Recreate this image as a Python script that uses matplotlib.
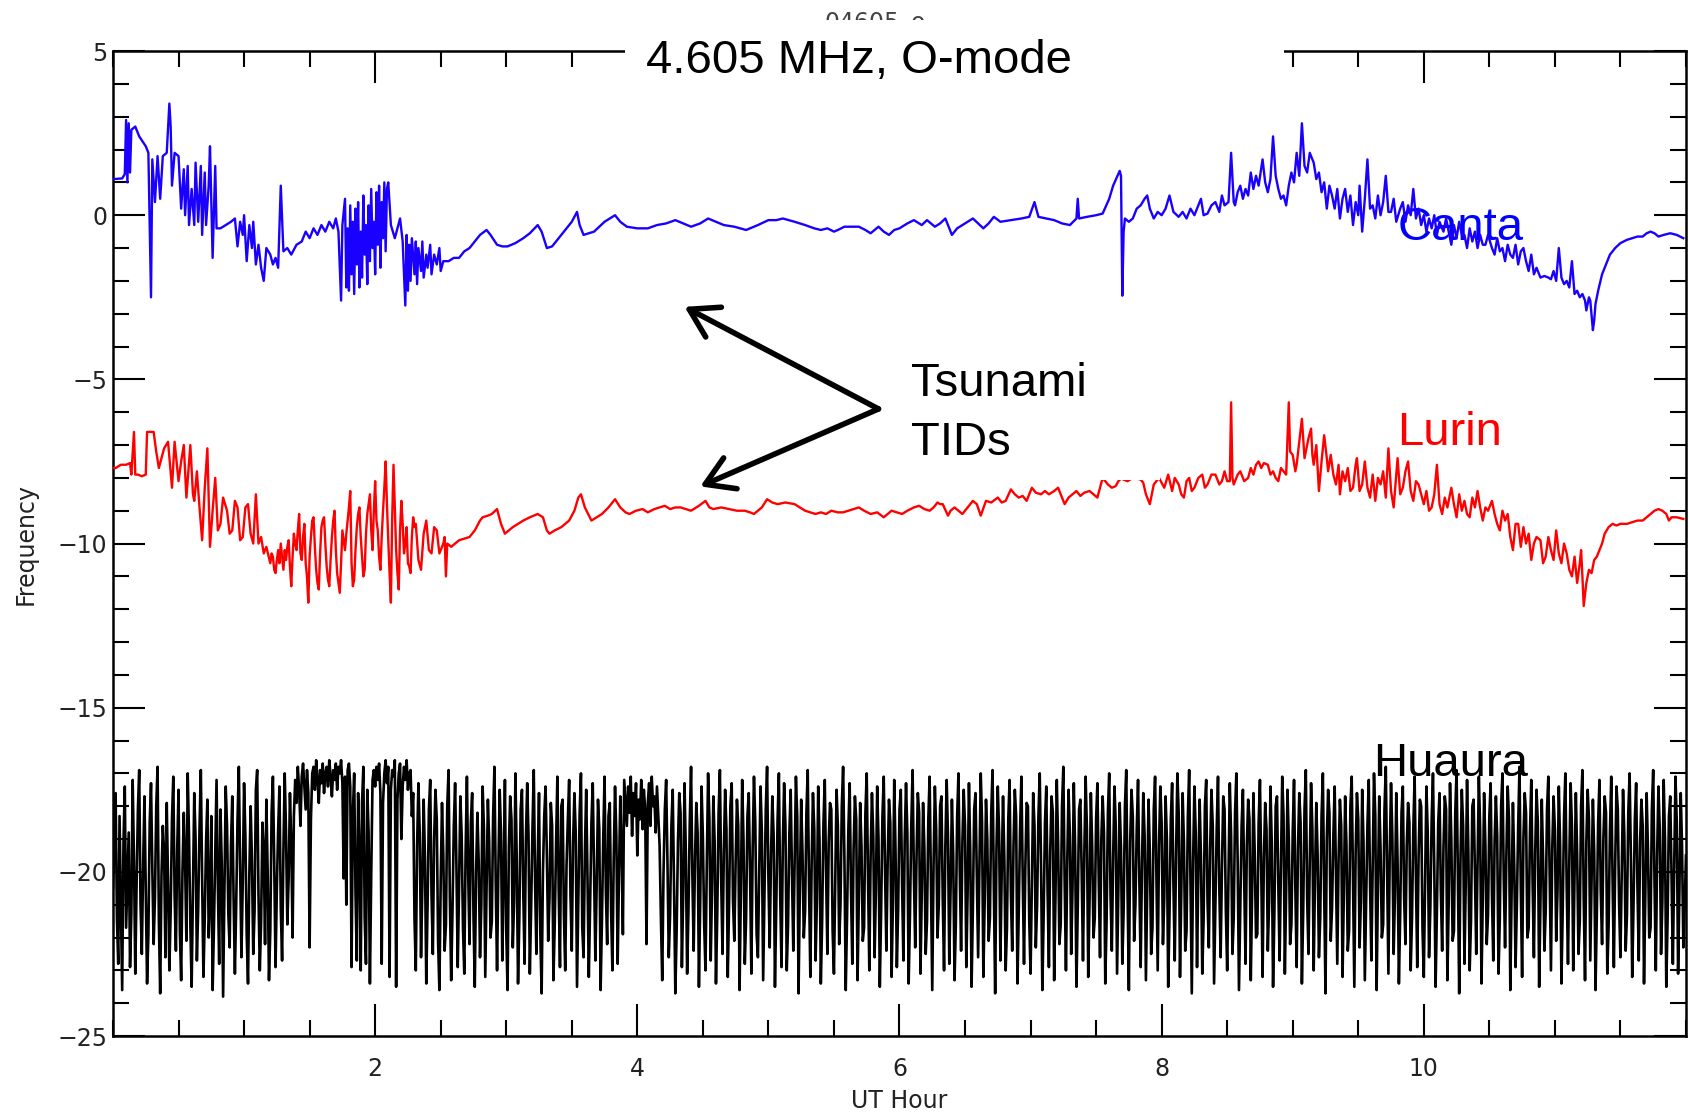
import numpy as np
import matplotlib
matplotlib.use("Agg")
import matplotlib.pyplot as plt
from matplotlib.patches import Rectangle

# ---- data (UT hour, frequency offset) ----
canta_t = [0.00, 0.07, 0.09, 0.10, 0.11, 0.12, 0.13, 0.14, 0.17, 0.20, 0.25, 0.27, 0.29, 0.30, 0.32, 0.34, 0.36, 0.38, 0.41, 0.43,
           0.44, 0.45, 0.47, 0.50, 0.52, 0.54, 0.55, 0.57, 0.58, 0.60, 0.62, 0.63, 0.65, 0.67, 0.68, 0.70, 0.71, 0.73, 0.74, 0.76,
           0.78, 0.79, 0.82, 0.86, 0.90, 0.93, 0.95, 0.97, 0.99, 1.00, 1.02, 1.04, 1.06, 1.07, 1.09, 1.11, 1.13, 1.15, 1.17, 1.20,
           1.22, 1.24, 1.26, 1.28, 1.30, 1.33, 1.36, 1.40, 1.44, 1.47, 1.50, 1.53, 1.56, 1.59, 1.62, 1.65, 1.68, 1.70, 1.72, 1.74,
           1.75, 1.77, 1.78, 1.79, 1.80, 1.81, 1.82, 1.83, 1.84, 1.85, 1.86, 1.87, 1.88, 1.89, 1.90, 1.91, 1.92, 1.93, 1.94, 1.95,
           1.96, 1.97, 1.98, 1.99, 2.00, 2.01, 2.02, 2.03, 2.04, 2.05, 2.06, 2.07, 2.08, 2.09, 2.10, 2.12, 2.15, 2.17, 2.19, 2.21,
           2.23, 2.24, 2.25, 2.26, 2.27, 2.28, 2.30, 2.31, 2.32, 2.33, 2.35, 2.36, 2.37, 2.39, 2.40, 2.42, 2.43, 2.45, 2.47, 2.49,
           2.50, 2.52, 2.56, 2.60, 2.64, 2.68, 2.72, 2.76, 2.80, 2.85, 2.88, 2.93, 2.97, 3.01, 3.07, 3.13, 3.18, 3.24, 3.27, 3.31,
           3.35, 3.38, 3.46, 3.50, 3.54, 3.56, 3.59, 3.63, 3.67, 3.75, 3.83, 3.87, 3.92, 4.00, 4.08, 4.15, 4.22, 4.29, 4.35, 4.41,
           4.48, 4.54, 4.60, 4.66, 4.74, 4.83, 4.92, 5.00, 5.06, 5.11, 5.20, 5.28, 5.35, 5.40, 5.45, 5.50, 5.53, 5.58, 5.61, 5.69,
           5.74, 5.78, 5.84, 5.88, 5.92, 5.96, 6.00, 6.06, 6.11, 6.17, 6.21, 6.27, 6.31, 6.35, 6.40, 6.44, 6.48, 6.52, 6.56, 6.60,
           6.64, 6.68, 6.72, 6.77, 6.85, 6.93, 6.99, 7.03, 7.06, 7.12, 7.18, 7.24, 7.30, 7.35, 7.36, 7.37, 7.43, 7.50, 7.55, 7.60,
           7.63, 7.68, 7.69, 7.70, 7.71, 7.72, 7.75, 7.78, 7.81, 7.84, 7.87, 7.89, 7.91, 7.94, 7.97, 8.00, 8.03, 8.06, 8.09, 8.13,
           8.16, 8.19, 8.22, 8.25, 8.28, 8.30, 8.32, 8.35, 8.38, 8.41, 8.44, 8.46, 8.48, 8.51, 8.53, 8.55, 8.56, 8.58, 8.60, 8.62,
           8.64, 8.66, 8.68, 8.70, 8.72, 8.74, 8.77, 8.79, 8.81, 8.83, 8.85, 8.87, 8.89, 8.91, 8.93, 8.95, 8.97, 8.99, 9.01, 9.03,
           9.05, 9.07, 9.09, 9.11, 9.13, 9.16, 9.18, 9.20, 9.22, 9.24, 9.26, 9.28, 9.30, 9.32, 9.34, 9.36, 9.38, 9.40, 9.42, 9.44,
           9.46, 9.48, 9.50, 9.51, 9.53, 9.55, 9.57, 9.59, 9.61, 9.63, 9.65, 9.67, 9.69, 9.71, 9.73, 9.75, 9.77, 9.79, 9.82, 9.84,
           9.86, 9.88, 9.90, 9.92, 9.94, 9.96, 9.98, 10.00, 10.02, 10.04, 10.06, 10.08, 10.10, 10.12, 10.15, 10.17, 10.19, 10.21, 10.23, 10.25,
           10.27, 10.29, 10.31, 10.33, 10.35, 10.37, 10.39, 10.41, 10.43, 10.45, 10.47, 10.49, 10.52, 10.54, 10.56, 10.58, 10.60, 10.62, 10.64, 10.66,
           10.68, 10.70, 10.72, 10.74, 10.76, 10.78, 10.80, 10.82, 10.84, 10.86, 10.89, 10.92, 10.95, 10.97, 10.99, 11.01, 11.03, 11.05, 11.07, 11.09,
           11.11, 11.13, 11.15, 11.17, 11.19, 11.21, 11.23, 11.24, 11.26, 11.27, 11.29, 11.30, 11.31, 11.33, 11.36, 11.39, 11.42, 11.46, 11.50, 11.55,
           11.59, 11.63, 11.67, 11.70, 11.73, 11.76, 11.79, 11.83, 11.88, 11.93, 11.98]
canta_v = [1.10, 1.12, 1.25, 2.90, 1.00, 2.80, 1.30, 2.60, 2.70, 2.40, 2.10, 1.90, -2.50, 1.70, 0.40, 1.80, 0.50, 1.80, 1.90, 3.40,
           2.70, 0.90, 1.90, 1.80, 0.20, 1.40, 0.00, 1.50, -0.30, 0.80, -0.30, 1.60, -0.20, 1.50, -0.60, 1.30, -0.30, 0.90, 2.10, -1.30,
           1.50, -0.40, -0.40, -0.30, -0.20, -0.10, -0.95, -0.20, -0.60, 0.00, -1.40, -0.30, -1.00, -0.20, -1.50, -0.90, -1.60, -2.00, -1.00, -1.20,
           -1.50, -1.30, -1.60, 0.90, -1.10, -1.00, -1.20, -0.90, -0.80, -0.50, -0.70, -0.40, -0.60, -0.30, -0.50, -0.20, -0.40, -0.10, -0.50, -2.60,
           -0.30, 0.50, -2.20, -0.40, -2.30, 0.30, -1.80, -0.20, -2.40, 0.20, -1.50, 0.40, -2.20, -0.50, -1.90, 0.60, -1.20, -0.30, -2.10, 0.30,
           -1.40, 0.80, -1.00, -0.20, -1.80, 0.70, -0.90, 0.90, -1.60, 0.40, -0.70, 1.00, -1.10, 0.80, 1.00, -0.30, -0.70, -0.40, -0.10, -0.80,
           -2.75, -0.60, -2.30, -0.90, -2.00, -0.70, -1.80, -0.80, -2.10, -1.00, -1.70, -0.80, -1.90, -1.20, -1.60, -0.90, -1.80, -1.20, -1.50, -1.00,
           -1.70, -1.40, -1.40, -1.30, -1.30, -1.10, -1.00, -0.80, -0.60, -0.45, -0.60, -0.90, -0.95, -0.95, -0.85, -0.70, -0.55, -0.30, -0.50, -1.00,
           -0.95, -0.80, -0.40, -0.20, 0.10, -0.30, -0.60, -0.55, -0.50, -0.20, 0.00, -0.20, -0.35, -0.40, -0.40, -0.30, -0.25, -0.15, -0.25, -0.35,
           -0.25, -0.10, -0.20, -0.30, -0.35, -0.45, -0.30, -0.15, -0.15, -0.10, -0.20, -0.30, -0.40, -0.45, -0.40, -0.50, -0.45, -0.35, -0.35, -0.35,
           -0.45, -0.55, -0.35, -0.50, -0.60, -0.45, -0.40, -0.25, -0.15, -0.30, -0.15, -0.35, -0.25, -0.10, -0.60, -0.40, -0.30, -0.20, -0.10, -0.25,
           -0.40, -0.25, -0.05, -0.20, -0.15, -0.10, -0.05, 0.40, -0.05, -0.10, -0.15, -0.25, -0.30, -0.10, 0.50, -0.10, -0.05, 0.00, 0.05, 0.50,
           0.90, 1.35, 1.20, -2.45, -0.50, -0.10, -0.20, -0.10, 0.20, 0.30, 0.50, 0.60, 0.20, -0.10, 0.10, 0.00, 0.20, 0.60, 0.10, -0.05,
           0.10, -0.10, 0.20, 0.00, 0.30, 0.50, 0.00, 0.05, 0.30, 0.40, 0.10, 0.60, 0.30, 0.40, 1.90, 0.40, 0.30, 0.70, 0.90, 0.50,
           0.80, 0.60, 1.30, 0.80, 1.20, 0.90, 1.70, 1.00, 0.70, 1.10, 2.40, 1.20, 0.80, 0.50, 0.60, 0.30, 0.90, 1.30, 1.00, 1.90,
           1.20, 2.80, 1.50, 1.30, 1.90, 1.60, 1.10, 1.30, 0.70, 1.00, 0.20, 0.90, 0.60, 0.20, 0.80, -0.10, 0.50, 0.80, 0.10, 0.60,
           -0.30, 0.40, 0.00, 0.90, -0.50, 0.50, 1.70, 0.20, 0.30, -0.10, 0.60, 0.00, 0.40, 1.20, 0.10, 0.10, 0.50, -0.20, 0.20, 0.40,
           -0.20, 0.30, 0.00, 0.80, -0.10, 0.20, -0.30, 0.00, -0.50, -0.10, -0.40, 0.00, -0.60, -0.20, -0.50, -0.10, -0.50, -0.90, -0.30, -0.70,
           -0.20, -0.60, -0.60, -1.00, -0.40, -0.80, -0.50, -1.00, -0.60, -0.90, -0.90, -0.60, -1.00, -1.20, -0.70, -1.10, -1.00, -1.40, -0.90, -1.20,
           -1.30, -0.90, -1.50, -1.10, -1.00, -1.40, -1.70, -1.20, -1.80, -1.60, -1.90, -1.85, -1.90, -1.95, -1.70, -2.00, -1.00, -1.90, -2.10, -2.00,
           -2.20, -1.40, -2.40, -2.30, -2.50, -2.40, -2.60, -2.90, -2.50, -2.60, -3.50, -3.20, -2.70, -2.30, -1.80, -1.50, -1.20, -1.00, -0.85, -0.75,
           -0.70, -0.65, -0.65, -0.55, -0.50, -0.55, -0.65, -0.60, -0.55, -0.60, -0.70]

lurin_t = [0.00, 0.02, 0.06, 0.10, 0.13, 0.14, 0.16, 0.17, 0.19, 0.22, 0.25, 0.26, 0.29, 0.31, 0.33, 0.35, 0.37, 0.39, 0.42, 0.45,
           0.47, 0.50, 0.52, 0.54, 0.56, 0.59, 0.61, 0.62, 0.64, 0.66, 0.68, 0.70, 0.72, 0.74, 0.76, 0.78, 0.80, 0.82, 0.84, 0.87,
           0.89, 0.91, 0.93, 0.95, 0.97, 0.99, 1.01, 1.03, 1.05, 1.07, 1.09, 1.11, 1.13, 1.15, 1.17,
           1.20, 1.21, 1.22, 1.23, 1.24, 1.25, 1.26, 1.27, 1.28, 1.29, 1.30, 1.31, 1.32, 1.33, 1.34, 1.35, 1.36, 1.37, 1.38, 1.39,
           1.40, 1.41, 1.42, 1.43, 1.44, 1.45, 1.46, 1.47, 1.48, 1.49, 1.50, 1.51, 1.52, 1.53, 1.54, 1.55, 1.56, 1.57, 1.58, 1.59,
           1.60, 1.61, 1.62, 1.63, 1.64, 1.65, 1.66, 1.67, 1.68, 1.69, 1.70, 1.71, 1.72, 1.73, 1.74, 1.75, 1.76, 1.77, 1.78, 1.79,
           1.80, 1.81, 1.82, 1.83, 1.84, 1.85, 1.86, 1.87, 1.88, 1.89, 1.90, 1.91, 1.92, 1.93, 1.94, 1.95, 1.96, 1.97, 1.98, 1.99,
           2.00, 2.01, 2.02, 2.03, 2.04, 2.05, 2.06, 2.07, 2.08, 2.09, 2.10, 2.11, 2.12, 2.13, 2.14, 2.15, 2.16, 2.17, 2.18, 2.19,
           2.20, 2.21, 2.22, 2.23, 2.24, 2.25, 2.26, 2.27, 2.28, 2.29, 2.30,
           2.31, 2.33, 2.35, 2.37, 2.39, 2.41,
           2.43, 2.45, 2.47, 2.49, 2.52, 2.53, 2.54, 2.55, 2.58, 2.61, 2.64, 2.68, 2.72, 2.76, 2.80, 2.82, 2.86, 2.89, 2.93, 2.96,
           2.99, 3.02, 3.05, 3.09, 3.13, 3.18, 3.24, 3.28, 3.31, 3.33, 3.37, 3.42, 3.48, 3.52, 3.55, 3.57, 3.60, 3.65, 3.69, 3.73,
           3.78, 3.83, 3.87, 3.91, 3.94, 3.99, 4.04, 4.08, 4.13, 4.17, 4.21, 4.25, 4.29, 4.33, 4.37, 4.41, 4.47, 4.52, 4.55, 4.58,
           4.64, 4.70, 4.76, 4.82, 4.86, 4.89, 4.92, 4.95, 4.99, 5.03, 5.07, 5.13, 5.20, 5.24, 5.28, 5.32, 5.36, 5.40, 5.44, 5.48,
           5.53, 5.57, 5.61, 5.65, 5.69, 5.73, 5.78, 5.83, 5.88, 5.91, 5.94, 5.98, 6.02, 6.06, 6.11, 6.15, 6.19, 6.23, 6.26, 6.29,
           6.31, 6.33, 6.37, 6.39, 6.42, 6.45, 6.48, 6.52, 6.56, 6.59, 6.62, 6.66, 6.70, 6.75, 6.78, 6.81, 6.85, 6.88, 6.91, 6.94,
           6.97, 7.01, 7.04, 7.08, 7.11, 7.14, 7.18, 7.21, 7.26, 7.29, 7.32, 7.35, 7.38, 7.41, 7.45, 7.48, 7.51, 7.55, 7.59, 7.62,
           7.65, 7.67, 7.69, 7.74, 7.78, 7.84, 7.86, 7.88, 7.91, 7.94, 7.98, 8.02, 8.05, 8.08, 8.10, 8.13, 8.15, 8.17, 8.19, 8.21,
           8.23, 8.25, 8.28, 8.31, 8.33, 8.35, 8.38, 8.41, 8.44, 8.46, 8.48, 8.50, 8.52, 8.53, 8.54, 8.55, 8.58, 8.60, 8.63, 8.66,
           8.68, 8.70, 8.72, 8.74, 8.76, 8.78, 8.81, 8.83, 8.85, 8.87, 8.89, 8.91, 8.93, 8.95, 8.97, 8.98, 9.00, 9.02, 9.03, 9.05,
           9.07, 9.09, 9.10, 9.12, 9.14, 9.15, 9.16, 9.18, 9.20, 9.22, 9.24, 9.26, 9.27, 9.29, 9.31, 9.33, 9.35, 9.36, 9.38, 9.40,
           9.42, 9.44, 9.46, 9.48, 9.49, 9.51, 9.53, 9.55, 9.57, 9.59, 9.61, 9.63, 9.65, 9.67, 9.69, 9.71, 9.73, 9.75, 9.77, 9.79,
           9.80, 9.82, 9.84, 9.86, 9.88, 9.90, 9.92, 9.94, 9.96, 9.98, 10.00, 10.02, 10.04, 10.06, 10.08, 10.10, 10.12, 10.14, 10.16, 10.18,
           10.21, 10.23, 10.25, 10.27, 10.29, 10.31, 10.33, 10.35, 10.37, 10.39, 10.41, 10.43, 10.45, 10.47, 10.49, 10.52, 10.54, 10.56, 10.58, 10.60,
           10.62, 10.64, 10.66, 10.68, 10.70, 10.72, 10.74, 10.76, 10.78, 10.80, 10.82, 10.84, 10.86, 10.89, 10.91, 10.93, 10.95, 10.97, 10.99, 11.01,
           11.03, 11.05, 11.07, 11.09, 11.11, 11.13, 11.15, 11.17, 11.19, 11.20, 11.21, 11.22, 11.24, 11.26, 11.28, 11.30, 11.32, 11.34, 11.36, 11.38,
           11.41, 11.44, 11.47, 11.50, 11.55, 11.59, 11.63, 11.67, 11.70, 11.73, 11.76, 11.79, 11.82, 11.85, 11.87, 11.89, 11.93, 11.98]
lurin_v = [-7.70, -7.70, -7.60, -7.60, -7.55, -7.90, -6.60, -7.90, -7.90, -7.95, -7.90, -6.60, -6.60, -6.60, -7.20, -7.70, -7.40, -7.10, -6.90, -8.30,
           -6.90, -8.10, -7.50, -7.00, -8.60, -7.00, -8.50, -8.70, -7.80, -8.90, -9.90, -8.30, -7.10, -10.10, -9.00, -8.00, -9.60, -9.40, -8.60, -9.00,
           -9.70, -9.60, -8.70, -8.90, -9.90, -9.80, -8.90, -8.80, -9.70, -10.00, -8.50, -10.00, -9.80, -10.30, -10.10,
           -10.6, -10.3, -10.4, -10.8, -10.9, -10.5, -10.2, -10.6, -10.0, -10.4, -10.8, -10.2, -10.5, -10.1, -9.9, -10.7, -11.3, -10.4, -9.7, -10.0,
           -10.2, -9.6, -9.1, -10.3, -10.5, -9.8, -9.4, -10.6, -11.0, -11.8, -10.4, -9.8, -9.3, -9.2, -10.1, -10.8, -11.2, -11.4, -10.3, -9.5,
           -9.3, -9.2, -10.0, -10.7, -11.1, -11.3, -10.5, -9.8, -9.3, -9.0, -10.2, -10.9, -11.2, -11.5, -10.6, -9.6, -9.9, -10.2, -9.7, -9.3,
           -8.9, -8.4, -10.6, -11.3, -11.1, -10.2, -9.5, -9.1, -8.9, -9.8, -10.4, -11.0, -10.8, -9.7, -9.1, -8.8, -8.5, -9.6, -10.2, -9.0,
           -8.1, -9.3, -9.6, -10.4, -10.8, -9.8, -9.0, -8.3, -7.5, -8.8, -9.9, -10.9, -11.8, -9.2, -7.6, -8.9, -10.2, -10.9, -11.4, -9.6,
           -8.7, -9.4, -10.3, -10.0, -9.5, -10.6, -10.7, -10.9, -9.8, -9.2, -9.5,
           -9.40, -10.50, -10.80, -9.70, -9.30, -10.20,
           -10.30, -9.50, -9.60, -10.30, -10.00, -9.80, -11.00, -10.00, -10.10, -10.00, -9.90, -9.85, -9.80, -9.60, -9.30, -9.20, -9.15, -9.10, -8.95, -9.40,
           -9.70, -9.60, -9.50, -9.40, -9.30, -9.20, -9.10, -9.20, -9.60, -9.70, -9.60, -9.50, -9.30, -9.00, -8.60, -8.50, -8.90, -9.30, -9.20, -9.10,
           -8.90, -8.65, -8.90, -9.05, -9.10, -9.00, -8.95, -9.05, -8.95, -8.90, -8.85, -8.95, -8.90, -8.90, -8.95, -9.00, -8.85, -8.70, -8.90, -8.95,
           -8.90, -8.95, -9.00, -9.00, -9.05, -9.10, -9.00, -8.90, -8.65, -8.75, -8.80, -8.75, -8.80, -8.90, -9.00, -9.05, -9.10, -9.05, -9.10, -9.00,
           -9.05, -9.05, -9.00, -8.95, -8.90, -9.00, -9.10, -9.05, -9.20, -9.10, -9.00, -9.05, -9.10, -9.00, -8.90, -8.85, -8.95, -9.00, -8.90, -8.75,
           -8.80, -8.80, -9.15, -9.00, -8.90, -9.00, -9.10, -8.90, -8.70, -8.80, -9.15, -8.70, -8.75, -8.60, -8.75, -8.70, -8.35, -8.50, -8.60, -8.55,
           -8.70, -8.30, -8.45, -8.50, -8.40, -8.50, -8.40, -8.30, -8.80, -8.60, -8.50, -8.40, -8.55, -8.45, -8.40, -8.50, -8.60, -8.00, -8.20, -8.30,
           -8.25, -8.10, -8.02, -8.10, -8.00, -8.05, -8.15, -8.50, -8.80, -8.20, -8.00, -8.30, -7.90, -8.40, -8.00, -8.20, -8.50, -8.60, -8.10, -8.00,
           -8.40, -8.30, -8.00, -7.90, -8.30, -8.20, -7.90, -7.90, -8.20, -8.10, -7.80, -8.10, -8.10, -5.70, -8.00, -8.20, -7.90, -7.80, -8.10, -8.00,
           -7.70, -7.90, -7.60, -7.50, -7.70, -7.55, -7.60, -7.90, -7.80, -8.00, -8.10, -7.70, -7.80, -7.90, -5.70, -7.20, -7.30, -7.80, -7.60, -6.90,
           -6.20, -7.40, -7.20, -6.80, -6.50, -7.30, -7.60, -7.00, -8.40, -7.50, -6.70, -7.40, -7.80, -7.30, -7.90, -8.20, -7.60, -8.50, -7.80, -8.10,
           -7.70, -8.40, -8.30, -7.60, -7.40, -8.40, -8.20, -7.50, -8.30, -8.60, -7.90, -8.70, -8.00, -8.20, -7.80, -8.60, -7.10, -8.40, -8.90, -7.90,
           -7.40, -8.50, -8.30, -7.80, -7.50, -8.40, -8.70, -8.10, -8.20, -8.50, -8.80, -8.40, -9.00, -8.90, -8.50, -7.60, -8.80, -9.10, -8.60, -8.90,
           -8.30, -8.80, -9.20, -8.50, -9.00, -8.70, -9.10, -9.20, -8.60, -8.90, -8.40, -8.90, -9.30, -8.90, -9.00, -8.70, -9.10, -9.40, -9.60, -9.00,
           -9.30, -9.10, -9.80, -10.20, -9.40, -9.40, -10.10, -9.50, -10.00, -9.70, -10.50, -10.00, -9.80, -9.90, -10.60, -10.40, -9.80, -10.20, -10.50, -9.60,
           -10.30, -10.60, -10.00, -10.30, -10.80, -11.00, -10.40, -11.20, -10.60, -10.20, -11.00, -11.90, -11.20, -10.80, -10.90, -10.50, -10.40, -10.20, -10.00, -9.70,
           -9.50, -9.40, -9.45, -9.40, -9.40, -9.35, -9.30, -9.30, -9.20, -9.10, -9.00, -8.95, -9.00, -9.10, -9.30, -9.20, -9.20, -9.25]

# Huaura: one reading every 0.01 h, rows of half an hour each
huaura_v = [
    -20.5, -19.2, -17.6, -21.4, -22.8, -18.3, -20.9, -23.6, -19.1, -17.4, -21.7, -20.2, -18.8, -22.9, -21.3, -17.2, -19.6, -23.1, -20.4, -18.1,
    -16.9, -21.0, -22.5, -19.8, -17.7, -20.6, -23.4, -21.9, -18.5, -17.3, -19.9, -22.2, -20.8, -18.0, -16.8, -21.5, -23.7, -20.1, -18.6, -19.4,
    -22.6, -17.9, -20.3, -23.0, -21.2, -18.4, -17.1, -20.7, -22.4, -19.3,
    -17.5, -21.8, -23.3, -20.0, -18.2, -19.7, -22.1, -17.0, -18.9, -21.6, -23.5, -20.5, -17.6, -19.0, -22.7, -21.1, -18.7, -16.9, -20.2, -23.2,
    -21.4, -19.1, -17.8, -22.0, -20.9, -18.3, -23.6, -21.7, -19.5, -17.2, -20.4, -22.8, -18.1, -19.8, -23.8, -20.6, -17.4, -18.6, -21.3, -22.3,
    -19.2, -17.7, -20.8, -23.1, -21.0, -18.4, -16.8, -19.9, -22.6, -20.3,
    -17.3, -18.9, -21.9, -23.4, -20.1, -18.0, -19.6, -22.5, -21.2, -17.5, -16.9, -20.7, -23.0, -21.5, -18.5, -19.3, -22.2, -17.8, -20.0, -23.3,
    -21.8, -18.2, -17.1, -19.7, -22.9, -20.5, -18.7, -17.4, -21.1, -22.7, -19.4, -17.0, -18.8, -21.6, -20.2, -17.6, -19.1, -22.0, -18.3, -17.2,
    -17.9, -16.8, -17.5, -18.6, -17.1, -16.7, -17.4, -18.1, -16.9, -17.6,
    -22.3, -18.4, -17.0, -16.8, -17.5, -16.6, -17.2, -17.9, -16.9, -17.3, -16.7, -17.6, -17.0, -16.8, -17.4, -16.6, -17.1, -17.7, -16.9, -17.2,
    -16.7, -17.5, -16.8, -17.0, -16.6, -17.3, -20.2, -17.1, -21.0, -16.9, -16.7, -17.4, -22.9, -18.2, -17.0, -20.6, -22.7, -17.6, -19.3, -23.0,
    -17.9, -16.8, -21.4, -22.8, -17.5, -18.8, -23.4, -20.1, -17.2, -16.9,
    -17.4, -16.8, -17.2, -16.7, -17.6, -22.8, -17.9, -17.0, -16.6, -17.3, -16.8, -23.2, -17.5, -16.9, -17.1, -16.6, -23.5, -17.8, -17.0, -16.7,
    -19.0, -17.4, -16.8, -17.2, -16.6, -17.5, -17.0, -16.9, -18.3, -17.6, -21.4, -23.0, -19.2, -17.3, -18.8, -22.6, -20.4, -17.8, -19.6, -23.4,
    -21.0, -18.1, -17.2, -20.7, -22.5, -19.0, -17.5, -18.4, -22.1, -23.6,
    -20.3, -17.9, -19.5, -22.4, -21.6, -18.0, -16.9, -20.8, -23.3, -21.2, -18.6, -17.3, -19.8, -22.9, -20.5, -17.7, -18.9, -21.7, -23.1, -19.4,
    -17.1, -20.1, -22.2, -18.5, -17.6, -21.3, -23.5, -20.0, -18.2, -19.7, -22.6, -21.0, -17.4, -18.7, -23.2, -20.6, -17.8, -19.1, -22.0, -21.5,
    -18.3, -16.8, -20.4, -23.0, -19.9, -17.5, -18.8, -22.7, -20.2, -17.2,
    -21.8, -23.6, -19.3, -17.7, -18.4, -22.3, -20.9, -17.0, -19.6, -23.4, -21.4, -18.1, -17.5, -20.6, -22.8, -19.0, -17.3, -18.9, -23.1, -21.1,
    -18.7, -16.9, -20.3, -22.5, -19.7, -17.6, -21.9, -23.7, -20.0, -18.3, -17.4, -19.5, -22.1, -20.8, -17.9, -18.6, -23.3, -21.6, -19.2, -17.1,
    -20.5, -22.9, -18.0, -17.8, -21.3, -23.0, -19.8, -18.4, -17.2, -20.7,
    -22.4, -19.1, -17.6, -18.8, -23.5, -20.9, -18.2, -17.0, -21.7, -22.6, -19.4, -17.5, -20.2, -23.2, -21.0, -18.5, -17.3, -19.9, -22.7, -20.4,
    -17.8, -18.7, -23.6, -21.5, -19.0, -17.1, -20.6, -22.2, -18.3, -17.9, -21.2, -23.0, -19.6, -17.4, -18.9, -22.8, -20.1, -17.7, -19.3, -21.9,
    -17.2, -17.9, -18.6, -17.4, -18.2, -17.1, -18.9, -17.6, -18.3, -17.3,
    -19.5, -17.8, -18.4, -17.2, -18.7, -17.5, -18.1, -22.2, -17.9, -17.3, -18.6, -17.1, -18.0, -17.7, -18.8, -17.4, -18.3, -19.2, -21.4, -23.3,
    -20.0, -18.1, -17.2, -19.7, -22.6, -21.3, -18.6, -17.5, -20.4, -23.7, -21.8, -19.1, -17.6, -18.2, -22.9, -20.7, -17.3, -19.4, -23.1, -21.2,
    -18.5, -16.8, -20.1, -22.4, -19.6, -17.9, -18.8, -23.5, -20.9, -17.4,
    -18.9, -21.6, -23.0, -19.8, -17.0, -18.4, -22.7, -20.5, -17.7, -19.1, -23.4, -21.3, -18.2, -16.9, -20.3, -22.5, -19.4, -17.5, -18.7, -23.2,
    -21.0, -18.0, -17.3, -20.9, -22.1, -19.7, -17.8, -18.6, -23.6, -20.6, -17.2, -19.0, -22.8, -21.4, -18.3, -17.6, -20.0, -23.1, -19.3, -17.1,
    -18.5, -21.9, -22.6, -19.9, -17.4, -18.8, -23.3, -20.8, -18.1, -16.8,
    -20.2, -22.3, -19.5, -17.7, -18.9, -23.5, -21.1, -18.4, -17.0, -20.7, -22.9, -19.2, -17.3, -18.6, -23.0, -21.6, -18.8, -17.5, -20.1, -22.4,
    -19.8, -17.1, -18.3, -23.7, -20.5, -17.8, -19.4, -22.0, -21.2, -18.2, -16.9, -20.4, -23.2, -19.7, -17.6, -18.7, -22.7, -20.9, -17.4, -19.0,
    -23.4, -21.5, -18.5, -17.2, -20.0, -22.5, -19.1, -17.9, -18.1, -21.8,
    -23.1, -20.3, -17.5, -18.6, -22.2, -21.0, -18.0, -16.8, -19.6, -23.6, -21.4, -18.7, -17.3, -20.5, -22.8, -19.3, -17.7, -18.4, -23.3, -20.8,
    -17.9, -19.2, -22.1, -21.7, -18.2, -17.0, -20.2, -23.0, -19.5, -17.6, -18.9, -22.6, -20.6, -17.4, -19.0, -23.5, -21.2, -18.3, -17.1, -20.0,
    -22.4, -19.7, -17.8, -18.5, -23.2, -20.9, -17.2, -19.4, -22.9, -21.1,
    -18.1, -17.5, -20.4, -22.7, -19.0, -17.3, -18.8, -23.4, -21.3, -18.6, -16.9, -20.1, -22.3, -19.6, -17.6, -18.2, -23.1, -20.7, -17.9, -19.3,
    -22.5, -21.5, -18.4, -17.1, -20.3, -23.6, -19.8, -17.4, -18.7, -22.0, -21.0, -18.0, -17.7, -20.8, -23.0, -19.2, -17.2, -18.9, -22.8, -20.5,
    -17.8, -19.5, -23.3, -21.6, -18.3, -17.0, -20.0, -22.4, -19.1, -17.5,
    -18.6, -22.9, -20.6, -17.3, -19.4, -23.5, -21.1, -18.1, -17.6, -20.2, -22.6, -19.7, -17.0, -18.5, -23.2, -20.9, -17.8, -19.0, -22.1, -21.4,
    -18.2, -16.9, -20.5, -23.7, -19.3, -17.4, -18.8, -22.7, -20.0, -17.7, -19.6, -23.0, -21.7, -18.4, -17.2, -20.7, -22.4, -19.2, -17.5, -18.3,
    -23.4, -21.2, -18.7, -17.1, -20.1, -22.8, -19.9, -17.9, -18.0, -21.5,
    -23.1, -20.4, -17.6, -18.6, -22.3, -21.0, -18.3, -17.0, -19.8, -23.6, -21.3, -18.5, -17.4, -20.6, -22.9, -19.4, -17.7, -18.2, -23.3, -20.8,
    -17.2, -19.1, -22.2, -21.6, -18.0, -16.8, -20.3, -23.0, -19.7, -17.5, -18.9, -22.5, -20.5, -17.3, -19.3, -23.5, -21.1, -18.1, -17.8, -20.0,
    -22.7, -19.5, -17.1, -18.7, -23.2, -20.9, -17.6, -19.2, -22.0, -21.4,
    -18.4, -17.3, -20.2, -22.6, -19.0, -17.7, -18.8, -23.4, -21.5, -18.2, -17.0, -20.7, -22.4, -19.6, -17.4, -18.6, -23.1, -20.4, -17.9, -19.3,
    -22.8, -21.2, -18.0, -16.9, -20.6, -23.6, -19.1, -17.5, -18.3, -22.1, -21.0, -18.7, -17.2, -20.3, -22.9, -19.8, -17.6, -18.9, -23.3, -20.5,
    -17.8, -19.4, -22.5, -21.7, -18.1, -17.1, -20.1, -23.0, -19.2, -17.4,
    -18.5, -22.2, -20.8, -17.7, -19.0, -23.5, -21.3, -18.4, -17.3, -20.4, -22.7, -19.5, -17.0, -18.2, -23.2, -20.6, -17.6, -19.1, -22.4, -21.8,
    -18.3, -16.9, -20.2, -23.7, -19.7, -17.4, -18.8, -22.9, -20.0, -17.8, -19.6, -23.1, -21.5, -18.0, -17.2, -20.9, -22.3, -19.3, -17.5, -18.6,
    -23.4, -21.0, -18.7, -17.1, -20.5, -22.6, -19.9, -17.7, -18.1, -21.2,
    -23.0, -20.1, -17.3, -18.9, -22.5, -21.4, -18.2, -17.0, -19.7, -23.6, -21.1, -18.6, -17.5, -20.3, -22.8, -19.2, -17.8, -18.4, -23.3, -20.7,
    -17.6, -19.4, -22.0, -21.9, -18.5, -17.2, -20.0, -23.2, -19.6, -17.9, -18.7, -22.4, -20.9, -17.4, -19.1, -23.5, -21.3, -18.0, -17.7, -20.4,
    -22.7, -19.8, -17.1, -18.3, -23.1, -20.6, -17.5, -19.0, -22.2, -21.6,
    -18.8, -17.2, -20.5, -22.9, -19.3, -17.6, -18.5, -23.4, -21.2, -18.1, -16.9, -20.8, -22.5, -19.7, -17.3, -18.7, -23.0, -20.2, -17.9, -19.5,
    -22.6, -21.4, -18.3, -17.0, -20.6, -23.7, -19.0, -17.5, -18.2, -22.1, -21.1, -18.9, -17.4, -20.1, -22.8, -19.6, -17.8, -18.6, -23.2, -20.7,
    -17.7, -19.2, -22.4, -21.8, -18.0, -17.1, -20.3, -23.5, -19.4, -17.6,
    -18.4, -22.3, -20.9, -17.5, -19.1, -23.3, -21.0, -18.6, -17.2, -20.4, -22.7, -19.8, -17.0, -18.3, -23.6, -20.5, -17.7, -19.3, -22.0, -21.6,
    -18.1, -16.8, -20.0, -23.1, -19.5, -17.3, -18.9, -22.5, -20.7, -17.6, -19.7, -23.4, -21.3, -18.2, -17.4, -20.8, -22.2, -19.2, -17.9, -18.5,
    -23.0, -21.4, -18.7, -17.1, -20.2, -22.9, -19.6, -17.8, -18.0, -21.7,
    -23.2, -20.3, -17.4, -18.8, -22.6, -21.1, -18.4, -17.0, -19.9, -23.5, -21.2, -18.5, -17.6, -20.6, -22.4, -19.3, -17.7, -18.1, -23.3, -20.9,
    -17.3, -19.0, -22.1, -21.8, -18.2, -16.9, -20.1, -23.7, -19.6, -17.5, -18.6, -22.8, -20.4, -17.2, -19.4, -23.0, -21.5, -18.0, -17.8, -20.0,
    -22.5, -19.7, -17.1, -18.7, -23.4, -20.8, -17.6, -19.2, -22.2, -21.3,
    -18.3, -17.3, -20.7, -22.7, -19.1, -17.7, -18.9, -23.1, -21.4, -18.0, -17.0, -20.2, -22.3, -19.5, -17.4, -18.4, -23.6, -20.6, -17.9, -19.8,
    -22.9, -21.0, -18.6, -16.8, -20.5, -23.2, -19.0, -17.6, -18.2, -22.0, -21.7, -18.8, -17.2, -20.3, -22.6, -19.4, -17.5, -18.5, -23.5, -20.9,
    -17.8, -19.6, -22.4, -21.2, -18.1, -17.1, -20.0, -23.0, -19.3, -17.7,
    -18.7, -22.1, -20.6, -17.4, -19.2, -23.4, -21.1, -18.3, -17.0, -20.4, -22.8, -19.7, -17.3, -18.6, -23.0, -20.1, -17.6, -19.5, -22.5, -21.5,
    -18.0, -16.9, -20.8, -23.3, -19.1, -17.5, -18.4, -22.7, -20.3, -17.8, -19.4, -23.6, -21.3, -18.5, -17.2, -20.6, -22.2, -19.0, -17.7, -18.2,
    -23.1, -21.6, -18.8, -17.1, -20.2, -22.9, -19.8, -17.4, -18.1, -21.0,
    -22.6, -20.0, -17.5, -18.9, -22.4, -21.3, -18.2, -17.0, -19.6, -23.2, -21.0, -18.4, -17.3, -20.5, -22.7, -19.1, -17.8, -18.6, -23.4, -20.7,
    -17.6, -19.3, -22.0, -21.7, -18.1, -16.9, -20.3, -23.0, -19.5, -17.4, -18.7, -22.5, -20.9, -17.2, -19.0, -23.5, -21.4, -18.3, -17.7, -20.1,
    -22.8, -19.9, -17.1, -18.5, -23.1, -20.6, -17.6, -19.2, -22.3, -21.1,
    -19.5]
huaura_t = np.arange(len(huaura_v)) * 0.01

x_ticks = [2, 4, 6, 8, 10]
y_ticks = [5, 0, -5, -10, -15, -20, -25]

plt.rcParams['font.family'] = ['DejaVu Sans']

fig = plt.figure(figsize=(16.89, 11.12), dpi=100)
ax = fig.add_axes([0.0669, 0.0683, 0.9313, 0.8858])

ax.plot(canta_t, canta_v, color='#1a00ff', lw=1.7, zorder=3)
ax.plot(lurin_t, lurin_v, color='#ff0000', lw=1.7, zorder=3)
ax.plot(huaura_t, huaura_v, color='black', lw=1.9, zorder=3)

ax.set_xlim(0, 12)
ax.set_ylim(-25, 5)
ax.set_xticks(x_ticks)
ax.set_xticks(np.arange(0, 12.01, 0.5), minor=True)
ax.set_yticks(y_ticks)
ax.set_yticks(np.arange(-25, 5.01, 1), minor=True)
ax.tick_params(which='both', direction='in', top=True, right=True, width=1.5, color='black')
ax.tick_params(which='major', length=23, labelsize=17, labelcolor='#222222')
ax.tick_params(which='minor', length=11.5)
ax.tick_params(axis='x', which='major', pad=15)
ax.tick_params(axis='y', which='major', pad=4)
for s in ax.spines.values():
    s.set_linewidth(1.8)

ax.set_xlabel('UT Hour', fontsize=17, color='#222222', labelpad=6)
ax.set_ylabel('Frequency', fontsize=17, color='#222222', labelpad=14)

# station labels
lab_font = dict(family='Liberation Sans', fontsize=34, va='center', ha='left')
ax.text(9.80, -0.39, 'Canta', color='#0000ff', zorder=2, **lab_font)
ax.text(9.80, -6.62, 'Lurin', color='#ff0000', zorder=2, **lab_font)
ax.text(9.61, -16.72, 'Huaura', color='black', zorder=2, **lab_font)

# white box behind the Tsunami note (hides part of the red trace)
ax.add_patch(Rectangle((5.95, -8.07), 2.04, 3.5, facecolor='white', edgecolor='none', zorder=4))
ax.text(6.09, -5.15, 'Tsunami', color='black', zorder=5, **lab_font)
ax.text(6.09, -6.95, 'TIDs', color='black', zorder=5, **lab_font)

arrow = dict(arrowstyle='->,head_length=0.9,head_width=0.55', lw=4, color='black', shrinkA=0, shrinkB=0,
             mutation_scale=22)
ax.annotate('', xy=(4.36, -2.79), xytext=(5.84, -5.90), arrowprops=arrow, zorder=6)
ax.annotate('', xy=(4.48, -8.26), xytext=(5.84, -5.90), arrowprops=arrow, zorder=6)

# original IDL title, mostly hidden under the white title box
fig.text(0.518, 0.978, '04605_o', fontsize=17, color='#444444', ha='center', va='center', zorder=1)
fig.add_artist(Rectangle((0.370, 0.915), 0.390, 0.067, transform=fig.transFigure,
                         facecolor='white', edgecolor='none', zorder=5))
fig.text(0.3825, 0.945, '4.605 MHz, O-mode', family='Liberation Sans', fontsize=34,
         color='black', ha='left', va='center', zorder=6)

fig.savefig('out.png', dpi=100)
